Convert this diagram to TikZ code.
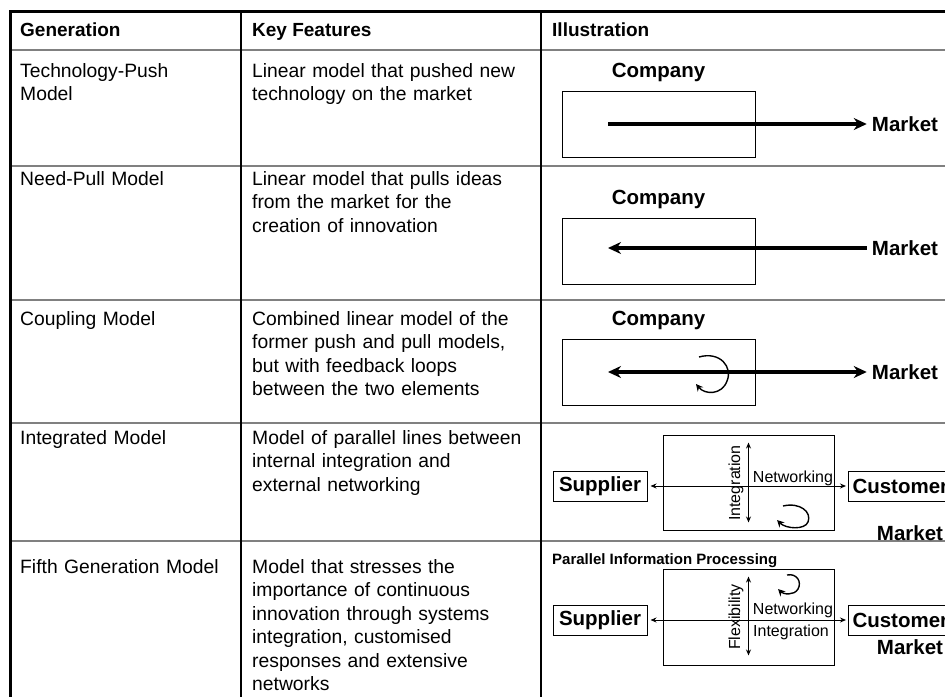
\documentclass[tikz,border=0pt]{standalone}
\usepackage{fontspec}
\setmainfont{Liberation Sans}
\usetikzlibrary{arrows.meta,positioning}

\begin{document}
\begin{tikzpicture}[x=1pt,y=-1pt,
    cell/.style={anchor=base west,inner sep=0pt,text width=285pt,align=left,
      font=\fontsize{19.3}{23.5}\selectfont},
    hdr/.style={anchor=base west,inner sep=0pt,font=\fontsize{19}{23}\selectfont\bfseries},
    lbl/.style={inner sep=0pt,font=\fontsize{20.5}{24}\selectfont\bfseries},
    tag/.style={inner sep=0pt,font=\fontsize{16}{19}\selectfont},
    actor/.style={draw,line width=1pt,minimum width=94pt,minimum height=30pt,
      inner sep=4pt,font=\fontsize{20.5}{24}\selectfont\bfseries},
    firm/.style={draw,line width=0.9pt},
    flow/.style={line width=3.5pt,-{Stealth[length=13pt,width=12pt]}},
    both/.style={line width=3.5pt,{Stealth[length=13pt,width=12pt]}-{Stealth[length=13pt,width=12pt]}},
    link/.style={line width=1pt,{Stealth[length=6pt,width=5pt]}-{Stealth[length=6pt,width=5pt]}},
    fback/.style={line width=1.4pt,-{Stealth[length=7pt,width=7pt]}}]
 \useasboundingbox (0,0) rectangle (945,697);
 % table rules
 \foreach \y in {50,166,300,423,541} {\draw[gray,line width=1.8pt] (10,\y) -- (945,\y);}
 \foreach \x in {241,541} {\draw[line width=1.2pt] (\x,10) -- (\x,697);}
 \draw[line width=3pt] (945,11) -- (10,11) -- (10,697);
 % header
 \node[hdr] (hGen) at (20,36) {Generation};
 \node[hdr] (hKey) at (252,36) {Key Features};
 \node[hdr] (hIll) at (552,36) {Illustration};
 % first two columns
 \node[cell] (gPush) at (20,77) {Technology-Push\\Model};
 \node[cell] (fPush) at (252,77) {Linear model that pushed new\\technology on the market};
 \node[cell] (gPull) at (20,185) {Need-Pull Model};
 \node[cell] (fPull) at (252,185) {Linear model that pulls ideas\\from the market for the\\creation of innovation};
 \node[cell] (gCoup) at (20,325) {Coupling Model};
 \node[cell] (fCoup) at (252,325) {Combined linear model of the\\former push and pull models,\\but with feedback loops\\between the two elements};
 \node[cell] (gInt) at (20,444) {Integrated Model};
 \node[cell] (fInt) at (252,444) {Model of parallel lines between\\internal integration and\\external networking};
 \node[cell] (gFifth) at (20,573) {Fifth Generation Model};
 \node[cell] (fFifth) at (252,573) {Model that stresses the\\importance of continuous\\innovation through systems\\integration, customised\\responses and extensive\\networks};
 % technology push
 \node[firm,minimum width=193pt,minimum height=66pt] (firmA) at (658.5,124) {};
 \node[lbl,above=9pt of firmA] (coA) {Company};
 \coordinate (srcA) at (608,124);
 \node[lbl] (mktA) at (905,124) {Market};
 \draw[flow,shorten >=5pt] (srcA) -- (mktA.west);
 % need pull
 \node[firm,minimum width=193pt,minimum height=66pt] (firmB) at (658.5,251) {};
 \node[lbl,above=9pt of firmB] (coB) {Company};
 \coordinate (dstB) at (608,248);
 \node[lbl] (mktB) at (905,248) {Market};
 \draw[flow,shorten <=5pt] (mktB.west) -- (dstB);
 % coupling
 \node[firm,minimum width=193pt,minimum height=66pt] (firmC) at (658.5,372) {};
 \node[lbl,above=9pt of firmC] (coC) {Company};
 \coordinate (srcC) at (608,372);
 \node[lbl] (mktC) at (905,372) {Market};
 \draw[both,shorten >=5pt] (srcC) -- (mktC.west);
 \draw[fback] (699,357) .. controls (720,351) and (733,367) .. (727,381)
   .. controls (722,395) and (705,395) .. (696,384);
 % integrated
 \node[firm,minimum width=171pt,minimum height=95pt] (netA) at (748.5,482.5) {};
 \node[actor] (supA) at (600,486) {Supplier};
 \node[actor,anchor=west] (cusA) at (848,486) {Customer};
 \node[lbl] (mktD) at (910,533) {Market};
 \draw[link,shorten <=3pt,shorten >=2pt] (supA) -- (cusA);
 \draw[link] ([yshift=-8pt]netA.north) -- ([yshift=8pt]netA.south);
 \node[tag,rotate=90] (intA) at (736,483) {Integration};
 \node[tag] (netwA) at (793,478) {Networking};
 \draw[fback] (783,506) .. controls (800,502) and (812,512) .. (808,522)
   .. controls (805,530) and (786,529) .. (777,520);
 % fifth generation
 \node[tag,anchor=west,font=\fontsize{15}{18}\selectfont\bfseries] (pip) at (552,561) {Parallel Information Processing};
 \node[firm,minimum width=171pt,minimum height=96pt] (netB) at (748.5,617) {};
 \node[actor] (supB) at (600,620) {Supplier};
 \node[actor,anchor=west] (cusB) at (848,620) {Customer};
 \node[lbl] (mktE) at (910,647) {Market};
 \draw[link,shorten <=3pt,shorten >=2pt] (supB) -- (cusB);
 \draw[link] ([yshift=-8pt]netB.north) -- ([yshift=10pt]netB.south);
 \node[tag,rotate=90] (flexB) at (736,617) {Flexibility};
 \node[tag] (netwB) at (793,610) {Networking};
 \node[tag] (intB) at (791,632) {Integration};
 \draw[fback] (787,575) .. controls (797,573) and (802,582) .. (798,589)
   .. controls (794,596) and (783,594) .. (778,589);
\end{tikzpicture}
\end{document}
